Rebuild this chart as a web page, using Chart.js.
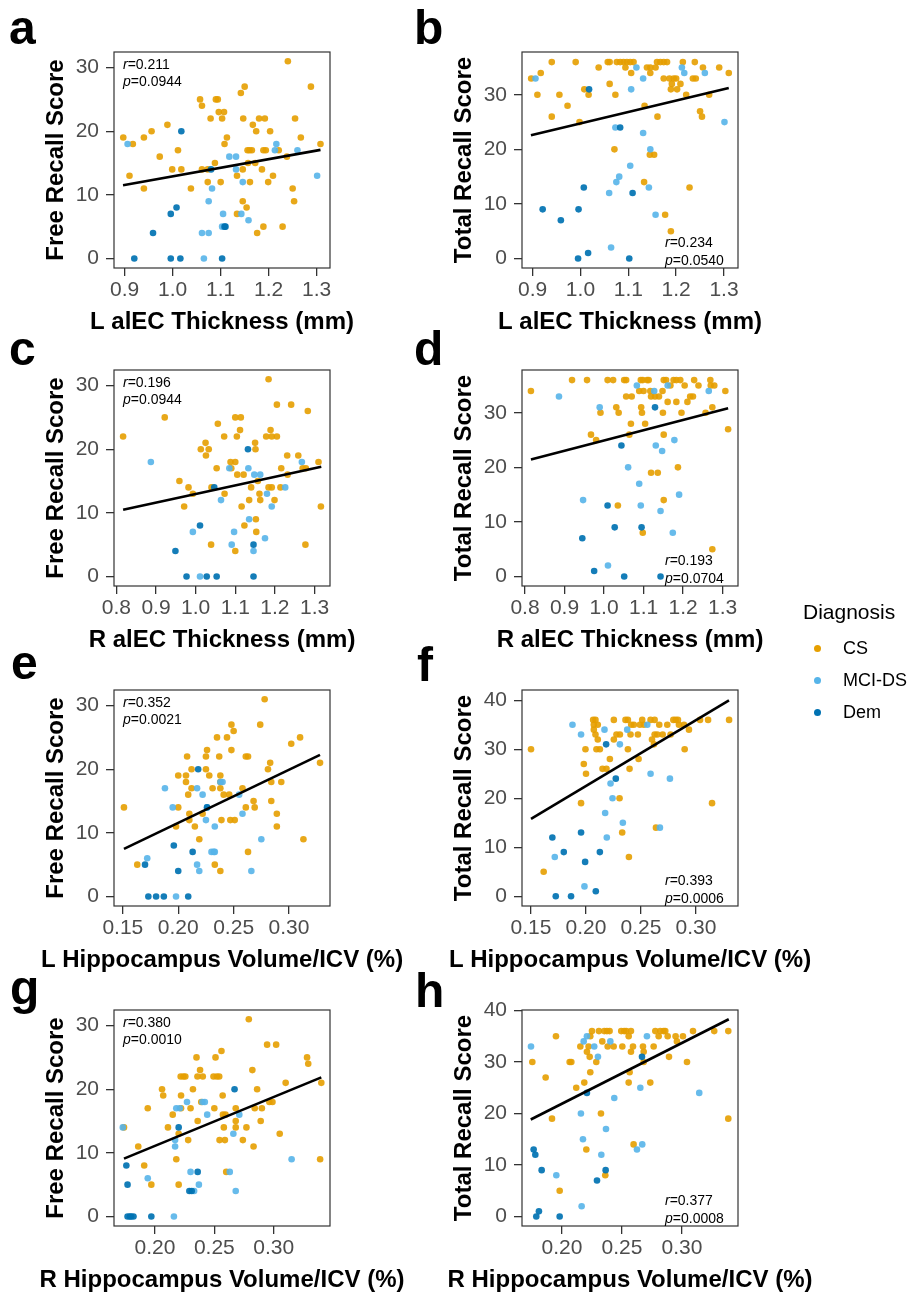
<!DOCTYPE html>
<html>
<head>
<meta charset="utf-8">
<script src="https://cdn.jsdelivr.net/npm/chart.js@4.4.1/dist/chart.umd.min.js"></script>
<style>
  html, body { margin: 0; padding: 0; background: #fff; }
  body { width: 914px; height: 1294px; position: relative; overflow: hidden;
         font-family: "Liberation Sans", Arial, sans-serif; }
  .panel { position: absolute; }
  .tag { position: absolute; font-weight: bold; font-size: 48px; line-height: 48px; color: #000; z-index: 2; }
  .legend { position: absolute; left: 803px; top: 600px; z-index: 2; color: #000; }
  .legend .title { font-size: 21px; line-height: 24px; }
  .legend .item { position: absolute; left: 0; font-size: 18px; line-height: 20px; white-space: nowrap; }
  .legend .dot { position: absolute; left: 11px; width: 7px; height: 7px; border-radius: 50%; }
  .legend .lbl { position: absolute; left: 40px; }
</style>
</head>
<body>

<div class="tag" style="left:9px; top:4px;">a</div>
<div class="tag" style="left:414px; top:4px;">b</div>
<div class="tag" style="left:9px; top:325px;">c</div>
<div class="tag" style="left:414px; top:325px;">d</div>
<div class="tag" style="left:11px; top:639px;">e</div>
<div class="tag" style="left:417px; top:641px;">f</div>
<div class="tag" style="left:10px; top:964px;">g</div>
<div class="tag" style="left:415px; top:967px;">h</div>

<div class="legend">
  <div class="title">Diagnosis</div>
  <div class="item" style="top:38px;"><span class="dot" style="top:7px; background:#E69F00;"></span><span class="lbl">CS</span></div>
  <div class="item" style="top:70px;"><span class="dot" style="top:7px; background:#56B4E9;"></span><span class="lbl">MCI-DS</span></div>
  <div class="item" style="top:102px;"><span class="dot" style="top:7px; background:#0072B2;"></span><span class="lbl">Dem</span></div>
</div>

<canvas id="pa" class="panel"></canvas>
<canvas id="pb" class="panel"></canvas>
<canvas id="pc" class="panel"></canvas>
<canvas id="pd" class="panel"></canvas>
<canvas id="pe" class="panel"></canvas>
<canvas id="pf" class="panel"></canvas>
<canvas id="pg" class="panel"></canvas>
<canvas id="ph" class="panel"></canvas>

<script>
// ---- data: [x, y] per participant, grouped by diagnosis ----

// a: L alEC thickness vs free recall
var aCS = [[0.897,19],[0.910,13],[0.917,18],[0.940,11],[0.940,19],[0.956,20],[0.973,16],[0.989,21],[0.999,14],[1.011,17],[1.018,14],[1.038,11],[1.057,25],[1.061,24],[1.061,14],[1.073,12],[1.073,14],[1.079,22],[1.088,15],[1.090,25],[1.094,25],[1.096,23],[1.100,12],[1.103,22],[1.107,23],[1.108,18],[1.113,19],[1.134,13],[1.134,7],[1.142,26],[1.146,14],[1.146,9],[1.147,22],[1.150,27],[1.154,8],[1.156,17],[1.157,15],[1.160,17],[1.161,12],[1.165,17],[1.167,21],[1.172,15],[1.174,20],[1.176,4],[1.180,22],[1.186,14],[1.189,17],[1.189,5],[1.192,22],[1.194,17],[1.199,12],[1.203,20],[1.209,13],[1.221,17],[1.229,5],[1.238,16],[1.240,31],[1.250,11],[1.253,9],[1.255,22],[1.267,19],[1.288,27],[1.308,18]];
var aMCI = [[0.906,18],[1.061,4],[1.065,0],[1.075,4],[1.075,9],[1.082,11],[1.103,5],[1.105,7],[1.118,16],[1.132,16],[1.132,14],[1.143,7],[1.146,12],[1.158,6],[1.213,17],[1.216,18],[1.260,17],[1.301,13]];
var aDem = [[0.920,0],[0.959,4],[0.996,7],[0.996,0],[1.008,8],[1.016,0],[1.018,20],[1.080,14],[1.103,0],[1.108,5],[1.110,5]];
var aFit = [[0.8965,11.5],[1.308,17.07]];
var aStat = ["0.211", "0.0944"];

// b: L alEC thickness vs total recall
var bCS = [[0.897,33],[0.910,30],[0.917,34],[0.940,36],[0.940,26],[0.956,30],[0.973,28],[0.990,36],[0.998,25],[1.008,31],[1.017,30],[1.038,35],[1.057,36],[1.061,36],[1.061,32],[1.071,20],[1.073,30],[1.076,36],[1.083,36],[1.090,36],[1.094,35],[1.097,36],[1.104,36],[1.106,34],[1.111,36],[1.133,14],[1.134,28],[1.139,35],[1.145,19],[1.146,35],[1.146,34],[1.154,19],[1.157,35],[1.160,36],[1.161,26],[1.167,36],[1.174,36],[1.181,36],[1.174,33],[1.186,33],[1.195,33],[1.200,33],[1.177,8],[1.189,31],[1.189,5],[1.191,32],[1.202,31],[1.209,32],[1.214,36],[1.221,30],[1.228,13],[1.239,36],[1.235,33],[1.241,33],[1.250,27],[1.254,26],[1.256,35],[1.269,30],[1.290,35],[1.310,34]];
var bMCI = [[0.906,33],[1.060,12],[1.064,2],[1.073,24],[1.075,14],[1.081,15],[1.104,17],[1.106,31],[1.117,35],[1.131,33],[1.131,23],[1.143,13],[1.146,20],[1.157,8],[1.212,35],[1.217,34],[1.260,34],[1.301,25]];
var bDem = [[0.921,9],[0.959,7],[0.995,0],[0.996,9],[1.007,13],[1.016,1],[1.018,31],[1.083,24],[1.102,0],[1.109,12]];
var bFit = [[0.8965,22.57],[1.310,31.25]];
var bStat = ["0.234", "0.0540"];

// c: R alEC thickness vs free recall
var cCS = [[0.817,22],[0.922,25],[0.959,15],[0.971,11],[0.982,14],[0.993,13],[1.013,20],[1.025,21],[1.026,19],[1.033,20],[1.039,5],[1.040,14],[1.053,17],[1.056,24],[1.072,22],[1.073,13],[1.088,18],[1.090,17],[1.100,18],[1.100,25],[1.100,4],[1.104,22],[1.105,16],[1.112,23],[1.114,25],[1.116,11],[1.121,16],[1.123,8],[1.135,12],[1.140,14],[1.150,21],[1.151,20],[1.152,9],[1.153,7],[1.157,15],[1.161,13],[1.163,12],[1.178,22],[1.184,31],[1.189,23],[1.184,14],[1.192,22],[1.192,14],[1.199,12],[1.205,22],[1.205,27],[1.214,14],[1.216,17],[1.231,19],[1.232,16],[1.241,27],[1.259,19],[1.270,17],[1.277,5],[1.278,17],[1.283,26],[1.310,18],[1.316,11]];
var cMCI = [[0.887,18],[0.993,7],[1.011,0],[1.064,12],[1.085,17],[1.091,5],[1.097,7],[1.133,17],[1.135,9],[1.146,4],[1.148,16],[1.163,16],[1.175,6],[1.180,13],[1.192,11],[1.226,14],[1.268,18]];
var cDem = [[0.949,4],[0.977,0],[1.011,8],[1.028,0],[1.047,14],[1.053,0],[1.132,20],[1.146,5],[1.146,0]];
var cFit = [[0.817,10.49],[1.317,17.25]];
var cStat = ["0.196", "0.0944"];

// d: R alEC thickness vs total recall
var dCS = [[0.815,34],[0.919,36],[0.957,36],[0.967,26],[0.980,25],[0.991,30],[1.009,36],[1.023,36],[1.031,31],[1.037,30],[1.035,13],[1.051,36],[1.056,36],[1.056,33],[1.070,33],[1.064,26],[1.068,28],[1.089,34],[1.093,36],[1.094,31],[1.096,30],[1.098,8],[1.098,36],[1.100,34],[1.104,28],[1.109,36],[1.113,36],[1.117,34],[1.119,33],[1.129,33],[1.139,33],[1.119,19],[1.136,19],[1.148,34],[1.149,30],[1.151,36],[1.151,26],[1.151,14],[1.157,36],[1.161,32],[1.168,35],[1.176,36],[1.183,36],[1.183,32],[1.187,20],[1.193,36],[1.196,30],[1.204,35],[1.211,32],[1.218,33],[1.225,33],[1.228,36],[1.239,35],[1.257,30],[1.269,36],[1.270,35],[1.279,35],[1.274,31],[1.274,5],[1.307,34],[1.314,27]];
var dMCI = [[0.886,33],[0.947,14],[0.989,31],[1.010,2],[1.061,20],[1.083,35],[1.089,17],[1.093,13],[1.127,34],[1.131,24],[1.143,12],[1.147,23],[1.161,35],[1.174,8],[1.178,25],[1.190,15],[1.265,34]];
var dDem = [[0.945,7],[0.975,1],[1.009,13],[1.027,9],[1.044,24],[1.051,0],[1.095,9],[1.129,31],[1.143,0]];
var dFit = [[0.815,21.46],[1.314,30.85]];
var dStat = ["0.193", "0.0704"];

// e: L hippocampus volume/ICV vs free recall
var eCS = [[0.151,14],[0.163,5],[0.198,11],[0.200,14],[0.200,19],[0.207,19],[0.207,18],[0.208,22],[0.209,16],[0.210,13],[0.210,12],[0.212,20],[0.212,17],[0.215,11],[0.219,9],[0.222,13],[0.225,20],[0.225,22],[0.226,23],[0.228,19],[0.231,17],[0.233,5],[0.235,25],[0.237,22],[0.238,19],[0.238,18],[0.238,17],[0.238,4],[0.239,12],[0.241,16],[0.244,25],[0.246,16],[0.247,12],[0.248,27],[0.248,23],[0.250,26],[0.251,12],[0.258,17],[0.261,14],[0.261,22],[0.263,22],[0.263,7],[0.268,15],[0.269,14],[0.274,27],[0.278,31],[0.281,20],[0.283,21],[0.284,18],[0.284,15],[0.289,13],[0.289,11],[0.293,18],[0.302,24],[0.310,25],[0.313,9],[0.328,21]];
var eMCI = [[0.172,6],[0.188,17],[0.195,14],[0.198,0],[0.217,17],[0.217,5],[0.219,4],[0.222,16],[0.225,12],[0.226,14],[0.230,7],[0.232,7],[0.233,7],[0.233,11],[0.238,18],[0.240,18],[0.255,16],[0.258,13],[0.266,4],[0.275,9]];
var eDem = [[0.170,5],[0.173,0],[0.180,0],[0.187,0],[0.196,8],[0.200,4],[0.209,0],[0.213,7],[0.218,20],[0.226,14]];
var eFit = [[0.151,7.49],[0.328,22.25]];
var eStat = ["0.352", "0.0021"];

// f: L hippocampus volume/ICV vs total recall
var fCS = [[0.150,30],[0.1615,5],[0.1955,19],[0.198,27],[0.200,25],[0.1995,30],[0.2065,36],[0.2086,36],[0.2071,35],[0.2107,35],[0.2071,34],[0.2086,33],[0.2107,32],[0.2095,30],[0.2126,30],[0.215,26],[0.2186,26],[0.2217,28],[0.2253,36],[0.2253,32],[0.2277,33],[0.2308,33],[0.2305,20],[0.2329,13],[0.2359,36],[0.2381,36],[0.2381,30],[0.239,8],[0.2396,26],[0.2405,33],[0.2411,35],[0.2435,35],[0.2472,33],[0.2478,28],[0.249,35],[0.2511,36],[0.2526,35],[0.2587,36],[0.2624,36],[0.260,32],[0.2624,33],[0.2648,33],[0.2697,33],[0.2618,31],[0.2636,14],[0.2666,35],[0.2739,35],[0.2794,36],[0.2815,36],[0.2836,36],[0.2769,33],[0.2845,35],[0.2891,35],[0.2936,34],[0.2897,30],[0.3037,36],[0.311,36],[0.3146,19],[0.3301,36]];
var fMCI = [[0.1877,35],[0.1955,33],[0.2168,34],[0.2375,34],[0.2557,35],[0.2308,31],[0.2223,23],[0.2241,20],[0.2174,17],[0.2335,15],[0.2189,12],[0.2587,25],[0.2763,24],[0.2672,14],[0.1716,8],[0.1986,2]];
var fDem = [[0.2183,31],[0.2271,24],[0.1694,12],[0.1955,13],[0.1798,9],[0.2126,9],[0.1992,7],[0.2089,1],[0.1725,0],[0.1864,0]];
var fFit = [[0.150,15.78],[0.330,40.0]];
var fStat = ["0.393", "0.0006"];

// g: R hippocampus volume/ICV vs free recall
var gCS = [[0.174,14],[0.186,11],[0.191,8],[0.194,17],[0.197,5],[0.206,20],[0.207,19],[0.211,14],[0.215,16],[0.218,9],[0.220,13],[0.220,5],[0.222,19],[0.2217,22],[0.224,22],[0.2256,22],[0.222,17],[0.228,12],[0.230,17],[0.232,20],[0.235,25],[0.236,15],[0.238,23],[0.2358,22],[0.2403,22],[0.239,18],[0.2493,22],[0.2521,22],[0.2541,22],[0.250,17],[0.251,25],[0.2544,12],[0.2589,12],[0.256,26],[0.257,19],[0.2572,16],[0.2594,16],[0.258,14],[0.260,7],[0.268,17],[0.268,15],[0.268,14],[0.274,12],[0.277,14],[0.279,31],[0.282,23],[0.283,11],[0.284,17],[0.286,20],[0.290,17],[0.289,15],[0.2944,27],[0.302,27],[0.2963,18],[0.2989,18],[0.305,13],[0.310,21],[0.328,25],[0.329,24],[0.340,21],[0.339,9]];
var gMCI = [[0.173,14],[0.194,6],[0.216,0],[0.217,12],[0.217,11],[0.218,17],[0.221,17],[0.227,18],[0.230,7],[0.233,4],[0.237,5],[0.240,18],[0.242,18],[0.244,16],[0.263,7],[0.266,13],[0.268,4],[0.271,16],[0.315,9]];
var gDem = [[0.176,8],[0.177,5],[0.177,0],[0.179,0],[0.180,0],[0.182,0],[0.197,0],[0.220,14],[0.229,4],[0.231,4],[0.236,7],[0.267,20]];
var gFit = [[0.174,9.09],[0.340,21.86]];
var gStat = ["0.380", "0.0010"];

// h: R hippocampus volume/ICV vs total recall
var hCS = [[0.1753,30],[0.1864,27],[0.1917,19],[0.195,35],[0.1981,5],[0.2064,30],[0.2078,30],[0.2119,25],[0.2153,33],[0.2186,26],[0.2203,13],[0.2208,32],[0.2222,33],[0.2231,31],[0.2236,28],[0.2236,35],[0.225,36],[0.2308,36],[0.2353,36],[0.2375,36],[0.2397,36],[0.2286,30],[0.2325,20],[0.2336,34],[0.2361,8],[0.2381,33],[0.2431,33],[0.2494,36],[0.2519,36],[0.2536,36],[0.2575,36],[0.2503,33],[0.2556,35],[0.2564,28],[0.2556,26],[0.2575,32],[0.2592,33],[0.2597,14],[0.2675,33],[0.2681,32],[0.2681,30],[0.2736,26],[0.2764,33],[0.2778,36],[0.2819,36],[0.2847,36],[0.2861,36],[0.2806,35],[0.2892,31],[0.2881,35],[0.2947,35],[0.2958,34],[0.3008,35],[0.3042,30],[0.3092,36],[0.3269,36],[0.3386,36],[0.3386,19]];
var hMCI = [[0.1742,33],[0.1953,8],[0.2158,20],[0.2164,2],[0.2175,15],[0.2181,34],[0.2208,35],[0.2269,33],[0.230,31],[0.2328,12],[0.2367,17],[0.2403,34],[0.2436,23],[0.2625,13],[0.2653,25],[0.2669,14],[0.2708,35],[0.3144,24]];
var hDem = [[0.1764,13],[0.1778,12],[0.1831,9],[0.1808,1],[0.1786,0],[0.1981,0],[0.2208,24],[0.2292,7],[0.2364,9],[0.2667,31]];
var hFit = [[0.174,18.83],[0.339,38.3]];
var hStat = ["0.377", "0.0008"];

// axis tick labels
var xTicksLEC = ["0.9", "1.0", "1.1", "1.2", "1.3"];
var xTicksREC = ["0.8", "0.9", "1.0", "1.1", "1.2", "1.3"];
var xTicksLHip = ["0.15", "0.20", "0.25", "0.30"];
var xTicksRHip = ["0.20", "0.25", "0.30"];
var yTicks30 = ["0", "10", "20", "30"];
var yTicks40 = ["0", "10", "20", "30", "40"];

// ---- layout ----
var PAD_L = 114, PAD_R = 92, PAD_T = 20, PAD_B = 76, PLOT = 216;
var COL_X = [114, 522];
var ROW_Y = [52, 370, 690, 1010];
var FONT = '"Liberation Sans", Arial, sans-serif';
var COLORS = { cs: "rgba(230,159,0,0.9)", mci: "rgba(86,180,233,0.9)", dem: "rgba(0,114,178,0.92)" };

function toPoints(list) {
  return list.map(function (p) { return { x: p[0], y: p[1] }; });
}

function fixedTicks(labels) {
  return function (scale) {
    scale.ticks = labels.map(function (s) { return { value: parseFloat(s) }; });
  };
}

function drawStat(ctx, x, y, sym, val) {
  ctx.font = "italic 14px " + FONT;
  ctx.fillText(sym, x, y);
  var w = ctx.measureText(sym).width;
  ctx.font = "14px " + FONT;
  ctx.fillText("=" + val, x + w, y);
}

// panel border, r/p note and axis titles
var panelDecor = {
  id: "panelDecor",
  afterDatasetsDraw: function (chart, args, opts) {
    var ctx = chart.ctx, a = chart.chartArea;
    ctx.save();
    ctx.strokeStyle = "#333333";
    ctx.lineWidth = 1.2;
    ctx.strokeRect(a.left, a.top, a.right - a.left, a.bottom - a.top);

    ctx.fillStyle = "#000";
    ctx.textAlign = "left";
    ctx.textBaseline = "alphabetic";
    if (opts.corner === "tl") {
      drawStat(ctx, a.left + 9, a.top + 16.5, "r", opts.stat[0]);
      drawStat(ctx, a.left + 9, a.top + 34, "p", opts.stat[1]);
    } else {
      drawStat(ctx, a.right - 73, a.bottom - 21, "r", opts.stat[0]);
      drawStat(ctx, a.right - 73, a.bottom - 3.5, "p", opts.stat[1]);
    }

    ctx.font = "bold 24px " + FONT;
    ctx.textAlign = "center";
    ctx.fillText(opts.xTitle, (a.left + a.right) / 2, a.bottom + 60.5);
    ctx.translate(a.left - 51, (a.top + a.bottom) / 2);
    ctx.rotate(-Math.PI / 2);
    ctx.fillText(opts.yTitle, 0, 0);
    ctx.restore();
  }
};

function makePanel(p) {
  var el = document.getElementById(p.id);
  el.width = PAD_L + PLOT + PAD_R;
  el.height = PAD_T + PLOT + PAD_B;
  el.style.left = (COL_X[p.col] - PAD_L) + "px";
  el.style.top = (ROW_Y[p.row] - PAD_T) + "px";

  var axisGrid = { drawOnChartArea: false, drawTicks: true, tickLength: 8, color: "#333333", lineWidth: 1.3 };
  var tickFont = { family: FONT, size: 21 };

  new Chart(el, {
    type: "scatter",
    data: {
      datasets: [
        { data: toPoints(p.fit), showLine: true, borderColor: "#000", borderWidth: 2.6, pointRadius: 0 },
        { label: "Dem", data: toPoints(p.dem), backgroundColor: COLORS.dem, pointRadius: 3.3, borderWidth: 0 },
        { label: "MCI-DS", data: toPoints(p.mci), backgroundColor: COLORS.mci, pointRadius: 3.3, borderWidth: 0 },
        { label: "CS", data: toPoints(p.cs), backgroundColor: COLORS.cs, pointRadius: 3.3, borderWidth: 0 }
      ]
    },
    options: {
      responsive: false,
      animation: false,
      events: [],
      layout: { padding: { top: PAD_T, right: PAD_R, left: 0, bottom: 0 } },
      plugins: {
        legend: { display: false },
        tooltip: { enabled: false },
        panelDecor: { corner: p.corner, stat: p.stat, xTitle: p.xTitle, yTitle: p.yTitle }
      },
      scales: {
        x: {
          type: "linear", min: p.xr[0], max: p.xr[1],
          afterBuildTicks: fixedTicks(p.xt),
          afterFit: function (s) { s.height = PAD_B; },
          grid: axisGrid,
          border: { display: false },
          ticks: {
            font: tickFont, color: "#4d4d4d", padding: 2, maxRotation: 0, autoSkip: false,
            callback: function (v, i) { return p.xt[i]; }
          }
        },
        y: {
          type: "linear", min: p.yr[0], max: p.yr[1],
          afterBuildTicks: fixedTicks(p.yt),
          afterFit: function (s) { s.width = PAD_L; },
          grid: axisGrid,
          border: { display: false },
          ticks: {
            font: tickFont, color: "#4d4d4d", padding: 7, autoSkip: false,
            callback: function (v, i) { return p.yt[i]; }
          }
        }
      }
    },
    plugins: [panelDecor]
  });
}

var FREE = "Free Recall Score", TOTAL = "Total Recall Score";
var panels = [
  { id: "pa", col: 0, row: 0, cs: aCS, mci: aMCI, dem: aDem, fit: aFit, stat: aStat, corner: "tl",
    xr: [0.8777, 1.3278], yr: [-1.5, 32.45], xt: xTicksLEC, yt: yTicks30, xTitle: "L alEC Thickness (mm)", yTitle: FREE },
  { id: "pb", col: 1, row: 0, cs: bCS, mci: bMCI, dem: bDem, fit: bFit, stat: bStat, corner: "br",
    xr: [0.8778, 1.3293], yr: [-1.75, 37.85], xt: xTicksLEC, yt: yTicks30, xTitle: "L alEC Thickness (mm)", yTitle: TOTAL },
  { id: "pc", col: 0, row: 1, cs: cCS, mci: cMCI, dem: cDem, fit: cFit, stat: cStat, corner: "tl",
    xr: [0.794, 1.339], yr: [-1.5, 32.45], xt: xTicksREC, yt: yTicks30, xTitle: "R alEC Thickness (mm)", yTitle: FREE },
  { id: "pd", col: 1, row: 1, cs: dCS, mci: dMCI, dem: dDem, fit: dFit, stat: dStat, corner: "br",
    xr: [0.7924, 1.339], yr: [-1.75, 37.85], xt: xTicksREC, yt: yTicks30, xTitle: "R alEC Thickness (mm)", yTitle: TOTAL },
  { id: "pe", col: 0, row: 2, cs: eCS, mci: eMCI, dem: eDem, fit: eFit, stat: eStat, corner: "tl",
    xr: [0.142, 0.337], yr: [-1.5, 32.45], xt: xTicksLHip, yt: yTicks30, xTitle: "L Hippocampus Volume/ICV (%)", yTitle: FREE },
  { id: "pf", col: 1, row: 2, cs: fCS, mci: fMCI, dem: fDem, fit: fFit, stat: fStat, corner: "br",
    xr: [0.1418, 0.3382], yr: [-2.0, 42.1], xt: xTicksLHip, yt: yTicks40, xTitle: "L Hippocampus Volume/ICV (%)", yTitle: TOTAL },
  { id: "pg", col: 0, row: 3, cs: gCS, mci: gMCI, dem: gDem, fit: gFit, stat: gStat, corner: "tl",
    xr: [0.1656, 0.3473], yr: [-1.5, 32.45], xt: xTicksRHip, yt: yTicks30, xTitle: "R Hippocampus Volume/ICV (%)", yTitle: FREE },
  { id: "ph", col: 1, row: 3, cs: hCS, mci: hMCI, dem: hDem, fit: hFit, stat: hStat, corner: "br",
    xr: [0.1667, 0.3467], yr: [-1.85, 40.1], xt: xTicksRHip, yt: yTicks40, xTitle: "R Hippocampus Volume/ICV (%)", yTitle: TOTAL }
];

panels.forEach(makePanel);
</script>
</body>
</html>
